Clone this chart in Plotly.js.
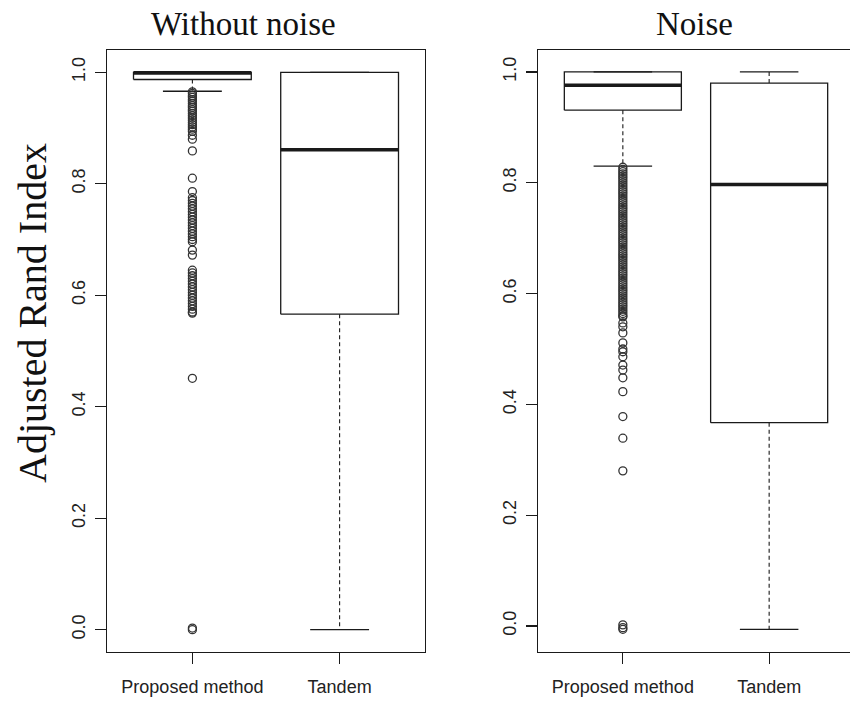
<!DOCTYPE html>
<html>
<head>
<meta charset="utf-8">
<script src="https://cdn.plot.ly/plotly-3.0.1.min.js"></script>
<style>
  html, body { margin: 0; padding: 0; overflow: hidden; background: #fff; }
  #chart { width: 860px; height: 702px; }
</style>
</head>
<body>
<div id="chart"></div>
<script>
// ---- Data ----
const categories = ["Proposed method", "Tandem"];
const panelTitles = ["Without noise", "Noise"];
const yTitle = "Adjusted Rand Index";
const yTickVals = [0, 0.2, 0.4, 0.6, 0.8, 1.0];

// Without noise: box statistics per category
const wnQ1 = [0.987, 0.566];
const wnMedian = [0.999, 0.861];
const wnQ3 = [1.0, 1.0];
const wnLowerWhisker = [0.966, 0.0];
const wnUpperWhisker = [1.0, 1.0];
// Without noise: outliers of "Proposed method"
const wnOutliers = [0.965,0.962,0.958,0.955,0.951,0.948,0.944,0.940,0.937,0.933,0.930,0.926,0.922,0.918,0.914,0.910,0.906,0.902,0.898,0.894,0.887,0.880,0.859,0.810,0.786,0.775,0.770,0.765,0.760,0.755,0.750,0.745,0.740,0.735,0.730,0.725,0.720,0.715,0.710,0.705,0.700,0.696,0.681,0.672,0.645,0.640,0.635,0.630,0.625,0.620,0.615,0.610,0.605,0.600,0.595,0.590,0.585,0.580,0.575,0.570,0.568,0.451,0.003,0.000];

// Noise: box statistics per category
const nQ1 = [0.931, 0.367];
const nMedian = [0.976, 0.797];
const nQ3 = [1.0, 0.980];
const nLowerWhisker = [0.830, -0.006];
const nUpperWhisker = [1.0, 1.0];
// Noise: outliers of "Proposed method"
const nOutliers = [0.828,0.824,0.820,0.816,0.812,0.808,0.804,0.800,0.796,0.792,0.788,0.784,0.780,0.776,0.772,0.768,0.764,0.760,0.756,0.752,0.748,0.744,0.740,0.736,0.732,0.728,0.724,0.720,0.716,0.712,0.708,0.704,0.700,0.696,0.692,0.688,0.684,0.680,0.676,0.672,0.668,0.664,0.660,0.656,0.652,0.648,0.644,0.640,0.636,0.632,0.628,0.624,0.620,0.616,0.612,0.608,0.604,0.600,0.596,0.592,0.588,0.584,0.580,0.576,0.572,0.568,0.564,0.560,0.558,0.547,0.540,0.529,0.511,0.500,0.495,0.486,0.471,0.462,0.448,0.423,0.378,0.339,0.280,0.002,-0.003,-0.006];

// ---- Build traces ----
const INK = "#1a1a1a";
const HALF = 0.4;   // half box width (R boxwex 0.8)
const CAP = 0.2;    // half whisker-cap width
const traces = [];

function addPanel(q1, med, q3, lo, hi, outliers, xa, ya) {
  categories.forEach((c, i) => {
    // box outline
    traces.push({type: "scatter", mode: "lines", xaxis: xa, yaxis: ya,
      x: [i - HALF, i + HALF, i + HALF, i - HALF, i - HALF],
      y: [q1[i], q1[i], q3[i], q3[i], q1[i]],
      line: {color: INK, width: 1.3}, fill: "toself", fillcolor: "white",
      hoverinfo: "skip", showlegend: false});
    // lower whisker (dashed) and cap
    traces.push({type: "scatter", mode: "lines", xaxis: xa, yaxis: ya,
      x: [i, i], y: [q1[i], lo[i]],
      line: {color: INK, width: 1.1, dash: "4px,3px"}, hoverinfo: "skip", showlegend: false});
    traces.push({type: "scatter", mode: "lines", xaxis: xa, yaxis: ya,
      x: [i - CAP, i + CAP], y: [lo[i], lo[i]],
      line: {color: INK, width: 1.3}, hoverinfo: "skip", showlegend: false});
    // upper whisker (dashed) and cap
    traces.push({type: "scatter", mode: "lines", xaxis: xa, yaxis: ya,
      x: [i, i], y: [q3[i], hi[i]],
      line: {color: INK, width: 1.1, dash: "4px,3px"}, hoverinfo: "skip", showlegend: false});
    traces.push({type: "scatter", mode: "lines", xaxis: xa, yaxis: ya,
      x: [i - CAP, i + CAP], y: [hi[i], hi[i]],
      line: {color: INK, width: 1.3}, hoverinfo: "skip", showlegend: false});
    // median (thick)
    traces.push({type: "scatter", mode: "lines", xaxis: xa, yaxis: ya,
      x: [i - HALF, i + HALF], y: [med[i], med[i]],
      line: {color: INK, width: 3.6}, hoverinfo: "skip", showlegend: false});
  });
  // outliers (first category)
  traces.push({type: "scatter", mode: "markers", xaxis: xa, yaxis: ya,
    x: outliers.map(() => 0), y: outliers,
    marker: {symbol: "circle-open", size: 8, color: "#333", line: {width: 1.3, color: "#333"}},
    hoverinfo: "y", showlegend: false});
}

addPanel(wnQ1, wnMedian, wnQ3, wnLowerWhisker, wnUpperWhisker, wnOutliers, "x", "y");
addPanel(nQ1, nMedian, nQ3, nLowerWhisker, nUpperWhisker, nOutliers, "x2", "y2");

const tickFont = {family: "Liberation Sans, Arial, sans-serif", size: 18, color: "#222"};
function xAxis(domain, anchor) {
  return {domain: domain, anchor: anchor, range: [-0.58, 1.58],
    tickvals: [0, 1], ticktext: categories, ticks: "outside", ticklen: 11,
    tickcolor: INK, tickwidth: 1.3, showline: true, mirror: true, linecolor: INK, linewidth: 1.4,
    showgrid: false, zeroline: false, tickfont: tickFont, ticklabelstandoff: 7, fixedrange: true};
}
function yAxis(range, anchor) {
  return {domain: [0.0712, 0.9288], anchor: anchor, range: range,
    tickvals: yTickVals, tickformat: ".1f", tickangle: -90, ticks: "outside", ticklen: 11,
    tickcolor: INK, tickwidth: 1.3, showline: true, mirror: true, linecolor: INK, linewidth: 1.4,
    showgrid: false, zeroline: false, tickfont: tickFont, ticklabelstandoff: 2, fixedrange: true};
}

const layout = {
  width: 860, height: 702,
  margin: {l: 0, r: 0, t: 0, b: 0},
  paper_bgcolor: "white", plot_bgcolor: "white",
  showlegend: false,
  xaxis: xAxis([107/860, 425/860], "y"),
  yaxis: yAxis([-0.04, 1.04], "x"),
  xaxis2: xAxis([538/860, 854/860], "y2"),
  yaxis2: yAxis([-0.047, 1.0397], "x2"),
  annotations: [
    {text: panelTitles[0], xref: "paper", yref: "paper", x: 244/860, y: 1 - 24/702,
     xanchor: "center", yanchor: "middle", showarrow: false,
     font: {family: "Liberation Serif, Times New Roman, serif", size: 33, color: "#111"}},
    {text: panelTitles[1], xref: "paper", yref: "paper", x: 694/860, y: 1 - 24/702,
     xanchor: "center", yanchor: "middle", showarrow: false,
     font: {family: "Liberation Serif, Times New Roman, serif", size: 33, color: "#111"}},
    {text: yTitle, xref: "paper", yref: "paper", x: 32/860, y: 1 - 313/702,
     xanchor: "center", yanchor: "middle", textangle: -90, showarrow: false,
     font: {family: "Liberation Serif, Times New Roman, serif", size: 40, color: "#111"}}
  ]
};

Plotly.newPlot("chart", traces, layout, {displayModeBar: false, staticPlot: true});
</script>
</body>
</html>
